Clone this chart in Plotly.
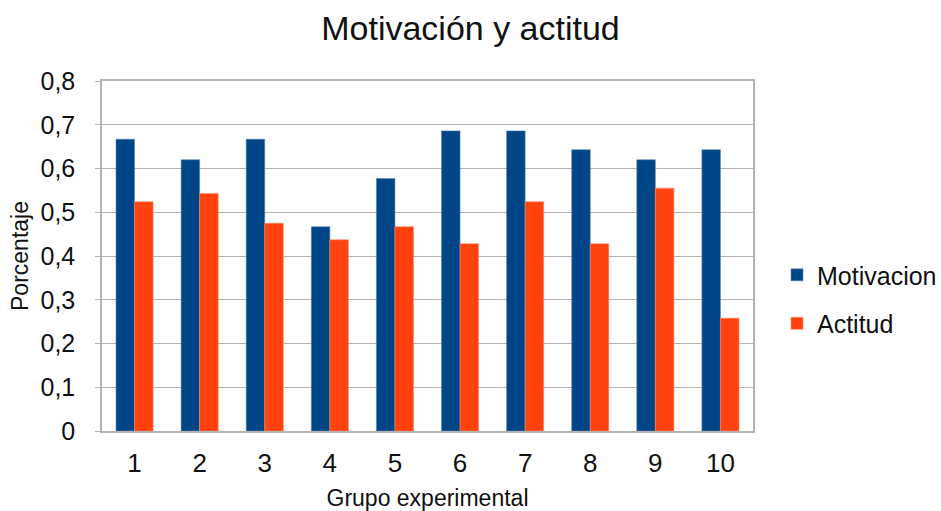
import plotly.graph_objects as go

categories = ["1", "2", "3", "4", "5", "6", "7", "8", "9", "10"]
motivacion = [0.667, 0.620, 0.667, 0.467, 0.577, 0.686, 0.686, 0.643, 0.620, 0.643]
actitud = [0.524, 0.543, 0.475, 0.437, 0.467, 0.428, 0.524, 0.428, 0.555, 0.258]
y_tickvals = [0, 0.1, 0.2, 0.3, 0.4, 0.5, 0.6, 0.7, 0.8]
y_ticktext = ["0", "0,1", "0,2", "0,3", "0,4", "0,5", "0,6", "0,7", "0,8"]

FONT = "Liberation Sans, Arial, sans-serif"
TXT = "#111111"

fig = go.Figure()
fig.add_trace(go.Bar(
    x=categories, y=motivacion, name="Motivacion",
    marker=dict(color="#004586", line=dict(color="#5a86b8", width=0.6)),
    legendgroup="a",
))
fig.add_trace(go.Bar(
    x=categories, y=actitud, name="Actitud",
    marker=dict(color="#ff420e", line=dict(color="#ff8a66", width=0.6)),
    legendgroup="b",
))

fig.update_layout(
    width=941, height=511,
    paper_bgcolor="white", plot_bgcolor="white",
    font=dict(family=FONT, color=TXT),
    margin=dict(l=102, r=188, t=81, b=80, autoexpand=False),
    barmode="group",
    bargap=0.43, bargroupgap=0,
    title=dict(text="Motivación y actitud", font=dict(size=34, family=FONT, color=TXT),
               x=0.5, xref="container", xanchor="center",
               y=1 - 28 / 511, yref="container", yanchor="middle"),
    legend=dict(x=777 / 941, xref="container", xanchor="left",
                y=0.377, yanchor="middle",
                font=dict(size=25, family=FONT, color=TXT),
                tracegroupgap=13, itemwidth=30, bgcolor="rgba(0,0,0,0)"),
    showlegend=True,
)
fig.update_xaxes(
    automargin=False,
    showline=True, linecolor="#b3b3b3", linewidth=1.5, mirror=True,
    showgrid=False, ticks="", tickfont=dict(size=26, family=FONT, color=TXT),
    ticklabelstandoff=8,
    title=dict(text="Grupo experimental", font=dict(size=23, family=FONT, color=TXT), standoff=20),
)
fig.update_yaxes(
    automargin=False,
    range=[0, 0.8], tickvals=y_tickvals, ticktext=y_ticktext,
    showline=True, linecolor="#b3b3b3", linewidth=1.5, mirror=True,
    showgrid=True, gridcolor="#b3b3b3", gridwidth=1,
    ticks="outside", ticklen=5, tickcolor="#b3b3b3",
    tickfont=dict(size=25, family=FONT, color=TXT),
    ticklabelstandoff=15,
    title=dict(text="Porcentaje", font=dict(size=23, family=FONT, color=TXT), standoff=5),
    zeroline=False,
)

fig.write_html(
    "out.html",
    config={"displayModeBar": False},
    post_script="document.body.style.margin='0';document.body.style.overflow='hidden';",
)
